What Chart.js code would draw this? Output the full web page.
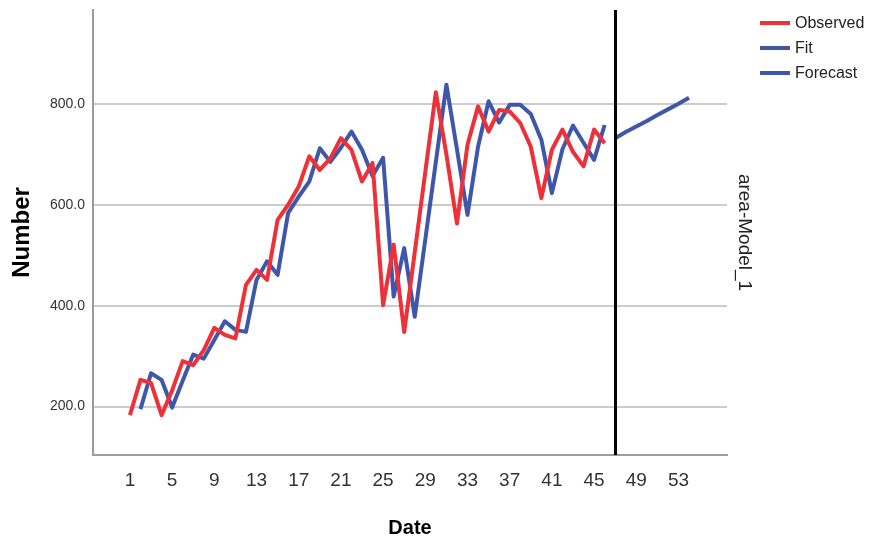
<!DOCTYPE html>
<html>
<head>
<meta charset="utf-8">
<script src="https://cdn.jsdelivr.net/npm/chart.js@4/dist/chart.umd.min.js"></script>
<style>
  html, body { margin: 0; padding: 0; background: #ffffff; }
  #wrap { width: 869px; height: 545px; }
</style>
</head>
<body>
<div id="wrap"><canvas id="chart" width="869" height="545"></canvas></div>
<script>
// Date axis tick labels and value axis ticks
const dateTickLabels = ['1', '5', '9', '13', '17', '21', '25', '29', '33', '37', '41', '45', '49', '53'];
const numberTickValues = [200, 400, 600, 800];

// Observed series, dates 1..46
const observedFirstDate = 1;
const observedValues = [183, 253, 247, 183, 232, 290, 282, 312, 356, 342,
                        335, 441, 471, 451, 570, 600, 636, 696, 669, 692,
                        732, 709, 646, 683, 401, 521, 348, 506, 665, 823,
                        700, 563, 719, 795, 745, 788, 785, 762, 715, 613,
                        709, 749, 705, 676, 749, 722];

// Model fit, dates 2..46
const fitFirstDate = 2;
const fitValues = [195, 266, 253, 198, 251, 303, 295, 332, 369, 352,
                   348, 451, 488, 461, 584, 616, 646, 712, 685, 713,
                   745, 709, 657, 693, 418, 514, 378, 531, 685, 838,
                   710, 580, 715, 805, 763, 798, 798, 780, 729, 623,
                   710, 757, 723, 689, 758];

// Forecast, dates 47..54
const forecastFirstDate = 47;
const forecastValues = [732, 744, 755, 766, 778, 789, 800, 812];

// Start of the forecast period (vertical rule)
const forecastOriginDate = 47;

const panelLabel = 'area-Model_1';

const RED = '#ee3139';
const BLUE = '#3f57ab';
const FONT = '"Liberation Sans", Arial, sans-serif';

const toPoints = (first, values) => values.map((v, i) => ({ x: first + i, y: v }));

const legendItems = [
  { text: 'Observed', color: RED },
  { text: 'Fit', color: BLUE },
  { text: 'Forecast', color: BLUE }
];

const decorations = {
  id: 'decorations',
  afterDatasetsDraw(chart) {
    const { ctx, chartArea, scales } = chart;
    // forecast origin rule
    const xr = Math.round(scales.x.getPixelForValue(forecastOriginDate)) + 0.5;
    ctx.save();
    ctx.strokeStyle = '#000000';
    ctx.lineWidth = 3;
    ctx.beginPath();
    ctx.moveTo(xr, chartArea.top);
    ctx.lineTo(xr, chartArea.bottom);
    ctx.stroke();
    ctx.restore();
  },
  afterDraw(chart) {
    const { ctx, chartArea } = chart;
    ctx.save();
    // legend
    const lx0 = 760, lx1 = 790, tx = 795;
    const ys = [23, 48, 73];
    ctx.font = '16px ' + FONT;
    ctx.textBaseline = 'middle';
    ctx.textAlign = 'left';
    legendItems.forEach((it, i) => {
      ctx.strokeStyle = it.color;
      ctx.lineWidth = 4;
      ctx.beginPath();
      ctx.moveTo(lx0, ys[i]);
      ctx.lineTo(lx1, ys[i]);
      ctx.stroke();
      ctx.fillStyle = '#222222';
      ctx.fillText(it.text, tx, ys[i] + 1);
    });
    // panel label on the right side
    ctx.translate(744, (chartArea.top + chartArea.bottom) / 2);
    ctx.rotate(Math.PI / 2);
    ctx.font = '19px ' + FONT;
    ctx.textAlign = 'center';
    ctx.textBaseline = 'middle';
    ctx.fillStyle = '#222222';
    ctx.fillText(panelLabel, 0, 0);
    ctx.restore();
  }
};

new Chart(document.getElementById('chart'), {
  type: 'line',
  data: {
    datasets: [
      { label: 'Observed', data: toPoints(observedFirstDate, observedValues), borderColor: RED },
      { label: 'Fit', data: toPoints(fitFirstDate, fitValues), borderColor: BLUE },
      { label: 'Forecast', data: toPoints(forecastFirstDate, forecastValues), borderColor: BLUE }
    ]
  },
  options: {
    responsive: false,
    animation: false,
    devicePixelRatio: 1,
    datasets: {
      line: { borderWidth: 4, pointRadius: 0, tension: 0, fill: false, borderJoinStyle: 'round' }
    },
    layout: { padding: { top: 10, right: 142, left: 0, bottom: 0 } },
    plugins: { legend: { display: false }, tooltip: { enabled: false } },
    scales: {
      x: {
        type: 'linear',
        min: -2.5,
        max: 57.6,
        afterBuildTicks: s => { s.ticks = dateTickLabels.map(t => ({ value: Number(t) })); },
        afterFit: s => { s.height = 90; s.paddingLeft = 0; s.paddingRight = 0; },
        ticks: {
          autoSkip: false, maxRotation: 0, padding: 14,
          color: '#333333',
          font: { family: FONT, size: 19 },
          callback: v => String(v)
        },
        grid: { display: false, drawTicks: false },
        border: { display: true, color: '#9c9c9c', width: 2 },
        title: {
          display: true, text: 'Date', color: '#000000',
          font: { family: FONT, size: 20, weight: 'bold' },
          padding: { top: 0, bottom: 5 }
        }
      },
      y: {
        type: 'linear',
        min: 104,
        max: 986,
        afterBuildTicks: s => { s.ticks = numberTickValues.map(v => ({ value: v })); },
        afterFit: s => { s.width = 93; s.paddingTop = 0; s.paddingBottom = 0; },
        ticks: {
          padding: 8,
          color: '#333333',
          font: { family: FONT, size: 14 },
          callback: v => Number(v).toFixed(1)
        },
        grid: { color: '#cccccc', lineWidth: 2, drawTicks: false },
        border: { display: true, color: '#9c9c9c', width: 2 },
        title: {
          display: true, text: 'Number', color: '#000000',
          font: { family: FONT, size: 24, weight: 'bold' },
          padding: { top: 8, bottom: 0 }
        }
      }
    }
  },
  plugins: [decorations]
});
</script>
</body>
</html>
